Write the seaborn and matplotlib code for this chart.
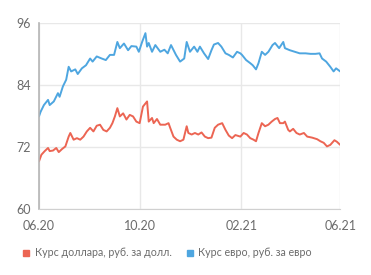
import pandas as pd
import numpy as np
import matplotlib
matplotlib.use("Agg")
import matplotlib.pyplot as plt
import matplotlib.dates as mdates
from matplotlib.lines import Line2D
import seaborn as sns

# курсы ЦБ, день считается от 01.06.2020
start = pd.Timestamp("2020-06-01")

usd_day = [0, 3, 7, 11, 13, 17, 21, 24, 28, 32, 36, 38, 42, 46, 50, 54, 58, 62, 66, 70,
           74, 78, 82, 86, 89, 92, 95, 98, 102, 106, 110, 114, 118, 122, 126, 131, 133, 137,
           139, 143, 147, 153, 157, 159, 163, 167, 171, 175, 179, 181, 185, 189, 193, 197,
           201, 205, 209, 213, 217, 222, 226, 230, 234, 238, 244, 248, 252, 256, 260, 263,
           266, 270, 274, 278, 282, 286, 289, 292, 296, 298, 302, 304, 308, 312, 316, 321,
           325, 331, 337, 341, 345, 349, 353, 358, 361, 365]
usd_rate = [69.2, 70.5, 71.2, 71.8, 71.2, 71.3, 71.8, 71.0, 71.6, 72.1, 74.0, 74.7, 73.4,
            73.7, 73.4, 74.0, 75.0, 75.7, 75.0, 76.1, 76.3, 75.3, 75.0, 75.7, 76.6, 77.9,
            79.5, 77.9, 78.5, 77.3, 78.2, 77.9, 76.9, 76.6, 79.8, 80.8, 76.9, 77.6, 76.6,
            77.4, 76.3, 76.3, 76.6, 75.7, 74.0, 73.4, 73.1, 73.4, 76.0, 74.7, 74.4, 74.7,
            74.4, 74.8, 74.0, 73.7, 73.8, 75.7, 76.3, 76.6, 75.3, 74.2, 73.7, 74.3, 74.0,
            74.7, 74.4, 73.7, 73.4, 73.1, 74.7, 76.6, 76.0, 76.3, 76.9, 77.4, 77.6, 76.6,
            76.6, 76.9, 75.3, 75.0, 75.5, 74.7, 74.4, 74.7, 74.0, 73.8, 73.5, 73.1, 72.8,
            72.1, 72.4, 73.3, 73.0, 72.4]

eur_day = [0, 2, 6, 11, 13, 18, 23, 25, 29, 33, 36, 39, 44, 47, 52, 57, 62, 65, 70, 76,
           81, 86, 91, 95, 98, 103, 108, 112, 118, 121, 125, 129, 131, 133, 137, 141, 147,
           152, 156, 160, 166, 171, 176, 179, 183, 188, 192, 195, 200, 205, 209, 212, 217,
           221, 226, 230, 235, 240, 244, 246, 251, 256, 259, 263, 266, 270, 274, 278, 283,
           286, 291, 296, 298, 304, 310, 316, 323, 329, 335, 340, 343, 348, 353, 357, 360, 365]
eur_rate = [77.9, 78.8, 80.1, 81.1, 80.1, 80.8, 82.4, 81.7, 83.7, 85.0, 87.5, 86.6, 87.0,
            86.1, 87.2, 87.8, 89.1, 88.5, 89.5, 89.1, 88.8, 89.8, 89.8, 92.3, 91.1, 92.0,
            90.7, 91.5, 91.4, 90.4, 92.3, 94.0, 91.4, 92.1, 90.4, 91.7, 90.4, 90.8, 90.1,
            91.7, 89.8, 88.5, 89.1, 92.3, 90.4, 91.4, 90.4, 91.4, 90.1, 89.0, 90.7, 91.8,
            92.1, 91.4, 90.1, 89.8, 89.3, 90.4, 90.1, 89.8, 88.8, 88.2, 87.8, 87.0, 88.2,
            90.4, 89.8, 90.4, 91.7, 92.1, 91.1, 92.3, 91.1, 90.7, 90.4, 90.1, 90.1, 90.0,
            90.0, 90.1, 89.1, 88.5, 87.5, 86.6, 87.2, 86.6]

labels = ["Курс доллара, руб. за долл.", "Курс евро, руб. за евро"]
colors = ["#ec6553", "#4ea6e0"]
tick_dates = ["2020-06-01", "2020-10-01", "2021-02-01", "2021-06-01"]

usd = pd.DataFrame({"date": start + pd.to_timedelta(usd_day, unit="D"), "rate": usd_rate})
eur = pd.DataFrame({"date": start + pd.to_timedelta(eur_day, unit="D"), "rate": eur_rate})

sns.set_style("white")
plt.rcParams["font.family"] = ["Lato", "DejaVu Sans"]

fig = plt.figure(figsize=(3.71, 2.75), dpi=100)
ax = fig.add_axes([0.105, 0.24, 0.812, 0.677])

sns.lineplot(data=usd, x="date", y="rate", color=colors[0], lw=1.4, ax=ax)
sns.lineplot(data=eur, x="date", y="rate", color=colors[1], lw=1.4, ax=ax)

ax.set_xlim(pd.Timestamp(tick_dates[0]), pd.Timestamp(tick_dates[-1]))
ax.set_ylim(60, 96)
ax.set_yticks([60, 72, 84, 96])
ax.set_xticks(pd.to_datetime(tick_dates))
ax.xaxis.set_major_formatter(mdates.DateFormatter("%m.%y"))
ax.set_xlabel("")
ax.set_ylabel("")

ax.grid(True, color="#e8e8e8", lw=1)
for s in ["top", "right"]:
    ax.spines[s].set_visible(False)
ax.spines["left"].set_color("#b5b5b5")
ax.spines["bottom"].set_color("#d0d0d0")
ax.spines["left"].set_linewidth(1.2)
ax.tick_params(axis="both", colors="#b5b5b5", labelcolor="#6b6b6b", labelsize=9,
               length=4, width=1, direction="out", pad=2)
ax.tick_params(axis="x", pad=4)

handles = [Line2D([], [], marker="s", ls="", color=c, markersize=5) for c in colors]
fig.legend(handles, labels, loc="center left", bbox_to_anchor=(0.03, 0.08), ncol=2,
           frameon=False, fontsize=7.7, handletextpad=0.3, columnspacing=1.2,
           labelcolor="#6b6b6b", handlelength=1)

fig.savefig("out.png", dpi=100)
